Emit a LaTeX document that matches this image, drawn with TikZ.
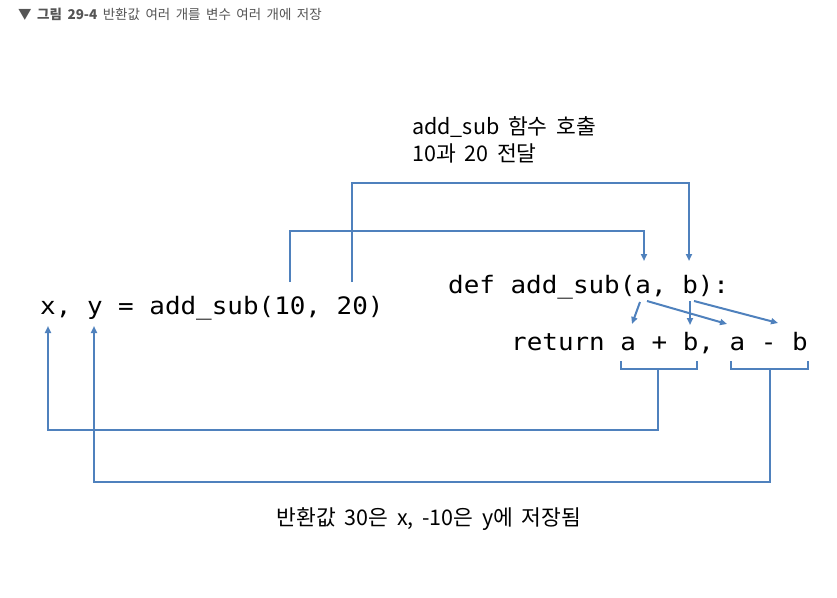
\documentclass[tikz,border=0pt]{standalone}
\usepackage{fontspec}
\usepackage{tikz}
\usetikzlibrary{arrows.meta,positioning}
\setmainfont{Noto Sans CJK KR}
\newfontfamily\codefont[FakeStretch=1.08]{DejaVu Sans Mono}
\newfontfamily\krfont[WordSpace=1.8]{Noto Sans CJK KR}
\definecolor{flowblue}{RGB}{79,129,189}
\definecolor{captiongray}{RGB}{85,85,85}

\begin{document}
\begin{tikzpicture}[
  x=1pt, y=-1pt,
  code/.style={font=\codefont\fontsize{24}{28}\selectfont, inner sep=0pt, anchor=base west},
  note/.style={font=\krfont\fontsize{21.5}{27}\selectfont, inner sep=0pt, align=left},
  caption/.style={font=\krfont\fontsize{13.5}{16}\selectfont, color=captiongray, inner sep=0pt, anchor=west},
  arrow/.style={-{Triangle[length=7pt,width=6pt]}, line width=2pt, color=flowblue},
  bracket/.style={line width=2pt, color=flowblue}
]
\useasboundingbox (0,0) rectangle (837,597);

% Caption
\node[caption] (title) at (18,14) {▼ \textbf{그림 29-4} 반환값 여러 개를 변수 여러 개에 저장};

% Code lines
\node[code] (callline) at (40,314) {x, y = add\_sub(10, 20)};
\node[code] (defline) at (448,293) {def add\_sub(a, b):};
\node[code] (retline) at (511,350) {return a + b, a - b};

% Notes
\node[note, anchor=base west] (callnote) at (412,161) {add\_sub 함수 호출\\10과 20 전달};
\node[note, anchor=base] (resultnote) at (429,525) {반환값 30은 x, -10은 y에 저장됨};

% Token points
\coordinate (argten) at (290,282);
\coordinate (argtwenty) at (352,282);
\coordinate (parama) at (644,261);
\coordinate (paramb) at (689,261);
\coordinate (froma) at (640,302);
\coordinate (fromaa) at (647,301);
\coordinate (fromb) at (690,301);
\coordinate (frombb) at (694,301);
\coordinate (suma) at (632,324);
\coordinate (diffa) at (727,324);
\coordinate (sumb) at (690,325);
\coordinate (diffb) at (778,323);
\coordinate (varx) at (48,326);
\coordinate (vary) at (94,326);
\coordinate (sumstem) at (658,369);
\coordinate (diffstem) at (770,369);

% Arguments to parameters
\draw[arrow] (argten) -- ++(0,-51) -| (parama);
\draw[arrow] (argtwenty) -- ++(0,-99) -| (paramb);

% Parameters into return
\draw[arrow] (froma) -- (suma);
\draw[arrow] (fromaa) -- (diffa);
\draw[arrow] (fromb) -- (sumb);
\draw[arrow] (frombb) -- (diffb);

% Brackets
\draw[bracket] (621,361) -- (621,369) -- (697,369) -- (697,361);
\draw[bracket] (731,361) -- (731,369) -- (808,369) -- (808,361);

% Return values to variables
\draw[arrow] (sumstem) -- ++(0,61) -| (varx);
\draw[arrow] (diffstem) -- ++(0,113) -| (vary);

\end{tikzpicture}
\end{document}
